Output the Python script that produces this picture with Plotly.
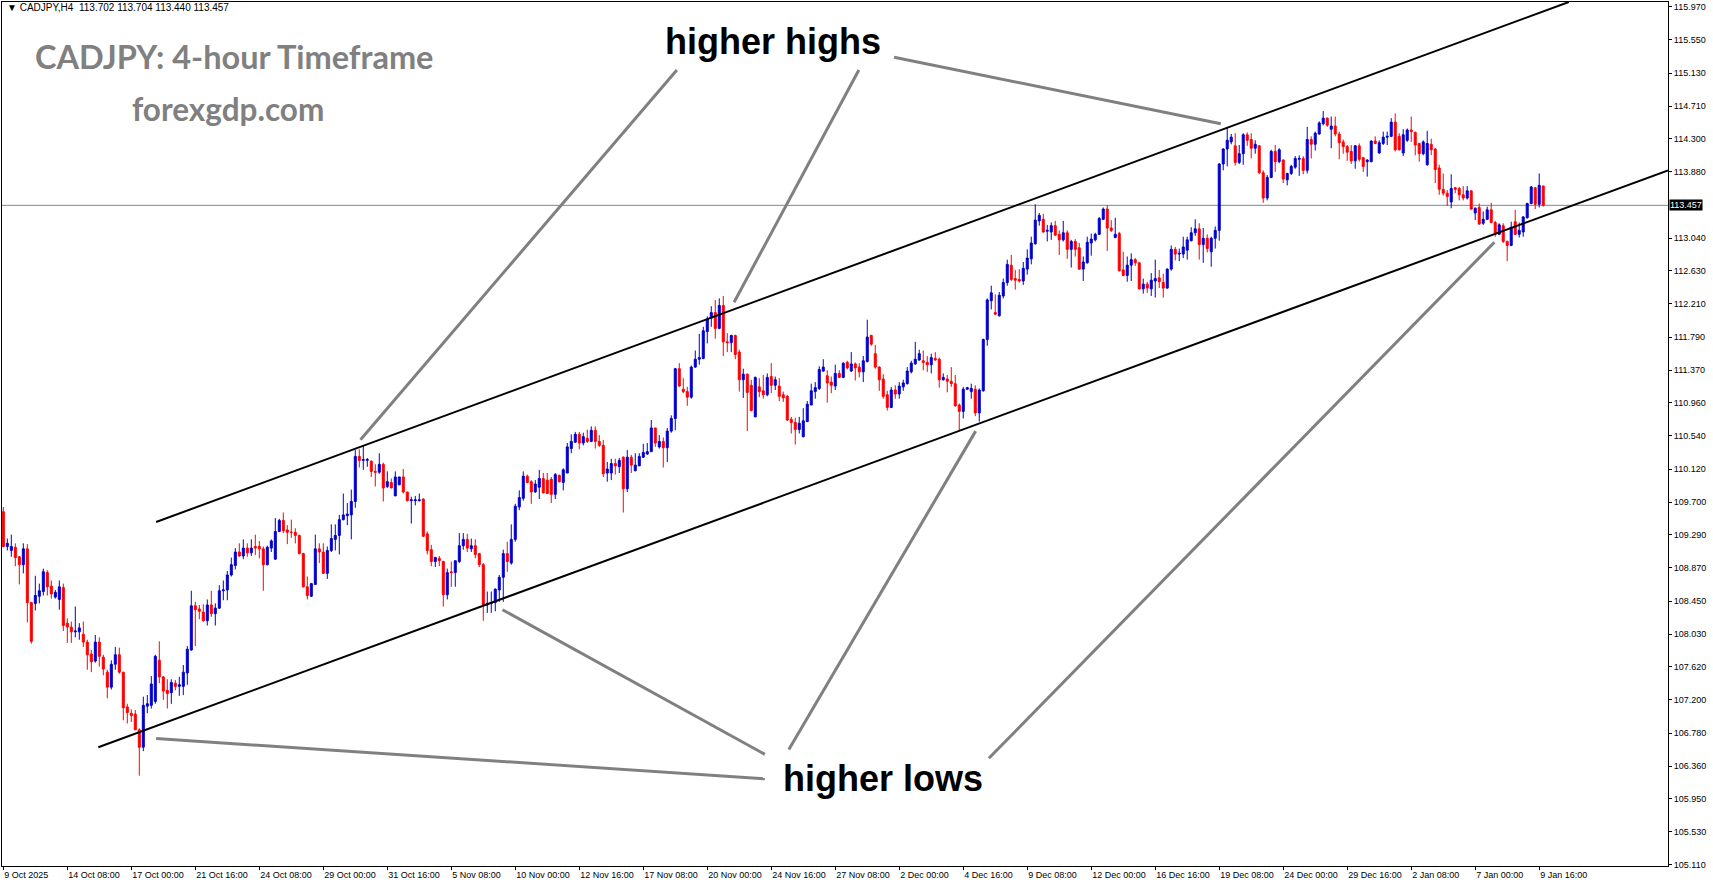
import plotly.graph_objects as go

# ---------------- data ----------------
opens = [
109.58,109.14,109.09,109.13,109.01,108.91,109.11,108.43,108.42,108.51,
108.57,108.81,108.64,108.50,108.47,108.62,108.17,108.12,108.06,108.06,
108.03,107.93,107.78,107.69,107.93,107.74,107.55,107.36,107.65,107.77,
107.55,107.11,107.03,107.02,106.82,106.60,107.12,107.13,107.18,107.70,
107.49,107.32,107.29,107.41,107.37,107.37,107.54,107.83,108.39,108.35,
108.31,108.20,108.40,108.29,108.36,108.58,108.59,108.78,108.90,109.07,
109.02,109.12,109.06,109.14,109.14,109.11,108.91,109.12,108.98,109.33,
109.47,109.35,109.32,109.32,109.28,109.05,108.63,108.51,108.66,109.11,
109.07,108.80,109.09,109.23,109.28,109.48,109.53,109.54,109.71,110.28,
110.23,110.23,110.22,110.09,110.08,110.18,109.90,109.95,109.78,109.92,
110.02,109.83,109.72,109.72,109.72,109.74,109.30,109.10,108.95,108.99,
108.95,108.53,108.82,108.81,108.95,109.15,109.23,109.11,109.15,109.05,
108.91,108.40,108.42,108.43,108.59,108.75,109.05,108.93,109.23,109.64,
109.75,110.03,109.96,109.83,109.89,110.00,109.98,109.99,109.80,110.04,
109.95,110.07,110.38,110.46,110.56,110.45,110.51,110.47,110.61,110.47,
110.42,110.07,110.07,110.19,110.15,110.27,109.87,110.27,110.10,110.16,
110.27,110.31,110.34,110.64,110.40,110.47,110.39,110.60,110.76,111.39,
111.13,111.10,111.03,111.41,111.51,111.52,111.86,112.03,112.10,111.90,
112.19,111.73,111.72,111.81,111.60,111.25,111.32,111.18,110.78,111.16,
111.11,111.06,111.29,111.18,111.17,111.06,111.04,110.75,110.71,110.62,
110.53,110.72,110.93,111.10,111.14,111.36,111.30,111.22,111.17,111.33,
111.28,111.47,111.36,111.45,111.41,111.35,111.48,111.81,111.58,111.41,
111.26,111.06,110.90,111.12,111.07,111.16,111.20,111.35,111.45,111.50,
111.49,111.47,111.44,111.52,111.51,111.25,111.26,111.23,111.20,110.93,
110.85,111.13,111.10,111.13,110.83,111.11,111.76,112.25,112.10,112.06,
112.31,112.48,112.70,112.53,112.52,112.50,112.65,112.78,112.97,113.26,
113.28,113.13,113.12,113.20,113.09,113.02,113.11,112.90,113.00,112.92,
112.65,112.73,112.98,113.02,113.09,113.28,113.41,113.17,113.05,113.10,
112.64,112.57,112.70,112.77,112.73,112.40,112.46,112.40,112.50,112.54,
112.48,112.41,112.65,112.90,112.84,112.84,112.89,113.01,113.11,113.16,
112.96,113.04,112.87,113.04,113.14,113.98,114.17,114.26,114.21,114.00,
114.11,114.35,114.29,114.18,114.21,113.87,113.55,113.81,114.14,114.01,
114.03,113.78,113.86,113.94,114.04,114.05,113.90,114.29,114.23,114.36,
114.49,114.56,114.42,114.46,114.36,114.26,114.20,114.14,114.02,114.21,
114.06,114.01,114.01,114.27,114.12,114.24,114.32,114.33,114.51,114.33,
114.12,114.28,114.41,114.38,114.24,114.11,113.97,114.23,114.17,113.93,
113.66,113.61,113.50,113.68,113.67,113.59,113.55,113.64,113.36,113.43,
113.23,113.28,113.40,113.24,113.09,113.20,113.00,112.95,113.25,113.09,
113.12,113.30,113.48,113.68,113.47,113.702]

highs = [
109.64,109.24,109.29,109.18,109.02,109.18,109.17,108.44,108.77,108.67,
108.86,108.84,108.71,108.59,108.71,108.67,108.23,108.19,108.38,108.17,
108.19,107.96,107.83,108.02,107.99,107.77,107.58,107.70,107.87,107.86,
107.55,107.15,107.08,107.07,106.84,107.24,107.26,107.50,107.77,107.94,
107.50,107.46,107.46,107.45,107.49,107.64,107.88,108.58,108.44,108.40,
108.41,108.47,108.58,108.42,108.65,108.71,108.83,109.00,109.12,109.18,
109.23,109.18,109.23,109.29,109.21,109.14,109.15,109.23,109.50,109.49,
109.57,109.41,109.48,109.37,109.29,109.06,108.76,108.68,109.29,109.18,
109.18,109.14,109.42,109.42,109.54,109.81,109.69,109.86,110.36,110.37,
110.42,110.26,110.23,110.18,110.32,110.20,110.09,110.00,110.09,110.02,
110.12,109.83,109.77,109.78,109.81,109.75,109.33,109.16,109.01,109.02,
108.96,108.86,108.95,108.96,109.31,109.31,109.30,109.24,109.23,109.06,
108.93,108.57,108.57,108.61,108.78,109.10,109.20,109.42,109.68,109.85,
110.09,110.05,109.98,109.98,110.11,110.07,110.07,110.02,110.07,110.05,
110.13,110.45,110.56,110.59,110.59,110.58,110.62,110.66,110.66,110.55,
110.49,110.21,110.25,110.25,110.26,110.28,110.36,110.30,110.32,110.32,
110.44,110.45,110.74,110.64,110.55,110.52,110.64,110.80,111.40,111.46,
111.27,111.16,111.43,111.62,111.83,111.92,112.05,112.18,112.26,112.28,
112.31,111.84,111.82,111.82,111.63,111.39,111.33,111.25,111.29,111.27,
111.31,111.33,111.46,111.29,111.27,111.10,111.06,110.78,110.77,110.78,
110.89,110.98,111.20,111.22,111.42,111.51,111.37,111.29,111.44,111.37,
111.47,111.49,111.60,111.47,111.46,111.55,112.01,111.82,111.69,111.42,
111.32,111.11,111.16,111.18,111.22,111.25,111.41,111.49,111.73,111.63,
111.62,111.55,111.58,111.60,111.53,111.33,111.31,111.41,111.31,110.95,
111.16,111.16,111.20,111.18,111.14,111.77,112.28,112.44,112.33,112.36,
112.53,112.77,112.83,112.64,112.65,112.74,112.90,113.06,113.47,113.36,
113.35,113.21,113.24,113.26,113.14,113.26,113.14,113.02,113.03,112.98,
112.81,113.06,113.10,113.11,113.31,113.43,113.46,113.27,113.30,113.12,
112.87,112.81,112.85,112.79,112.74,112.53,112.49,112.60,112.77,112.64,
112.59,112.66,112.95,112.93,112.91,113.06,113.06,113.18,113.28,113.23,
113.17,113.09,113.06,113.19,113.99,114.18,114.45,114.36,114.37,114.22,
114.37,114.38,114.37,114.28,114.22,113.90,113.84,114.16,114.22,114.18,
114.04,113.87,113.97,114.08,114.09,114.08,114.45,114.33,114.39,114.52,
114.65,114.57,114.58,114.58,114.39,114.29,114.22,114.22,114.22,114.24,
114.07,114.04,114.28,114.33,114.28,114.39,114.39,114.56,114.62,114.37,
114.42,114.43,114.58,114.39,114.25,114.28,114.40,114.30,114.18,113.97,
113.86,113.65,113.85,113.69,113.69,113.70,113.70,113.65,113.43,113.48,
113.38,113.44,113.49,113.26,113.23,113.23,113.01,113.25,113.40,113.24,
113.32,113.49,113.70,113.69,113.86,113.704]

lows = [
109.13,109.09,109.01,108.89,108.66,108.80,108.18,107.91,108.33,108.42,
108.52,108.52,108.48,108.48,108.34,108.07,107.92,107.92,107.99,107.96,
107.87,107.58,107.55,107.67,107.62,107.51,107.22,107.33,107.58,107.53,
106.94,106.90,106.92,106.82,106.24,106.55,107.03,107.09,107.15,107.41,
107.20,107.09,107.15,107.32,107.25,107.26,107.39,107.82,107.88,108.22,
108.19,108.14,108.25,108.14,108.35,108.46,108.46,108.76,108.85,109.01,
108.98,109.01,109.02,109.03,108.99,108.58,108.90,109.07,108.97,109.32,
109.31,109.17,109.25,109.18,109.04,108.62,108.47,108.50,108.66,108.93,
108.79,108.73,109.07,109.09,109.04,109.47,109.41,109.23,109.63,110.14,
110.11,110.15,110.02,109.90,110.06,109.71,109.88,109.88,109.78,109.92,
109.81,109.71,109.43,109.66,109.71,109.26,109.04,108.89,108.88,108.89,
108.38,108.47,108.63,108.63,108.93,109.10,109.07,109.07,108.99,108.88,
108.20,108.30,108.30,108.32,108.44,108.44,108.82,108.91,109.20,109.60,
109.72,109.94,109.68,109.82,109.74,109.81,109.81,109.69,109.74,109.95,
109.85,110.07,110.32,110.45,110.37,110.42,110.45,110.46,110.38,110.40,
110.02,109.96,109.98,110.05,110.07,109.57,109.83,110.07,110.09,110.16,
110.26,110.30,110.34,110.40,110.38,110.14,110.21,110.58,110.61,111.16,
111.08,110.92,111.01,111.40,111.44,111.51,111.71,111.92,111.77,111.89,
111.55,111.60,111.60,111.51,111.10,111.02,110.60,110.85,110.78,111.03,
111.01,111.04,111.08,111.12,110.98,110.97,110.73,110.57,110.43,110.57,
110.52,110.72,110.93,111.01,111.12,111.35,110.96,111.08,111.12,111.27,
111.27,111.38,111.35,111.24,111.28,111.22,111.47,111.68,111.39,111.11,
111.01,110.86,110.89,111.01,111.01,111.11,111.19,111.33,111.44,111.49,
111.37,111.35,111.33,111.49,111.15,111.24,111.09,111.16,110.91,110.60,
110.76,111.12,111.01,110.79,110.72,111.10,111.68,112.14,112.07,112.05,
112.28,112.44,112.50,112.39,112.48,112.45,112.58,112.71,112.96,113.20,
113.11,113.00,113.02,113.07,112.83,113.00,112.78,112.67,112.81,112.64,
112.50,112.72,112.82,113.00,113.08,113.27,112.88,113.12,113.04,112.62,
112.56,112.49,112.50,112.69,112.39,112.34,112.35,112.31,112.29,112.41,
112.29,112.40,112.63,112.76,112.75,112.79,112.77,113.00,113.07,112.77,
112.73,112.86,112.68,112.91,113.01,113.90,113.95,114.23,113.96,113.98,
113.97,114.21,114.05,114.11,113.85,113.49,113.52,113.80,113.88,113.99,
113.74,113.71,113.84,113.92,113.83,113.85,113.86,114.05,114.15,114.35,
114.47,114.45,114.18,114.33,114.04,114.11,114.02,113.98,113.92,114.01,
113.88,113.82,114.00,114.23,114.11,114.22,114.22,114.32,114.14,114.15,
114.08,114.26,114.26,114.09,114.01,114.09,113.96,114.09,113.74,113.59,
113.58,113.45,113.42,113.61,113.52,113.52,113.53,113.40,113.27,113.21,
113.21,113.27,113.23,113.06,113.08,112.98,112.75,112.94,113.08,113.05,
113.06,113.29,113.47,113.41,113.43,113.440]

closes = [
109.14,109.18,109.14,109.00,108.91,109.11,108.43,107.94,108.52,108.58,
108.82,108.63,108.54,108.56,108.63,108.14,108.12,108.06,108.07,108.11,
107.93,107.77,107.68,107.93,107.75,107.59,107.36,107.65,107.77,107.55,
107.10,107.04,107.00,106.82,106.60,107.13,107.15,107.40,107.75,107.49,
107.31,107.28,107.42,107.37,107.39,107.55,107.84,108.39,108.34,108.32,
108.20,108.40,108.29,108.36,108.58,108.59,108.78,108.91,109.07,109.02,
109.12,109.06,109.12,109.12,109.11,108.91,109.13,109.21,109.33,109.47,
109.34,109.32,109.32,109.28,109.05,108.63,108.52,108.67,109.11,109.07,
108.80,109.09,109.24,109.28,109.48,109.54,109.55,109.71,110.28,110.23,
110.24,110.24,110.09,110.08,110.18,109.88,109.96,109.88,110.02,110.02,
109.83,109.72,109.73,109.73,109.73,109.27,109.09,108.95,109.00,108.96,
108.53,108.81,108.81,108.96,109.15,109.23,109.12,109.15,109.04,108.91,
108.40,108.42,108.43,108.60,108.75,109.05,108.95,109.23,109.65,109.76,
110.03,109.95,109.83,109.93,110.00,109.82,109.81,109.80,110.05,109.96,
110.11,110.40,110.47,110.56,110.45,110.53,110.47,110.61,110.47,110.42,
110.06,110.12,110.19,110.16,110.23,109.87,110.27,110.17,110.17,110.28,
110.33,110.34,110.64,110.45,110.47,110.39,110.60,110.76,111.39,111.17,
111.10,111.03,111.41,111.51,111.53,111.87,112.02,112.10,111.90,112.19,
111.73,111.72,111.81,111.57,111.25,111.32,111.09,110.86,111.28,111.10,
111.06,111.28,111.18,111.25,111.04,111.02,110.74,110.71,110.62,110.70,
110.73,110.94,111.11,111.15,111.38,111.41,111.21,111.18,111.33,111.28,
111.46,111.40,111.45,111.40,111.35,111.49,111.79,111.70,111.41,111.25,
111.04,110.90,111.12,111.07,111.17,111.21,111.36,111.46,111.51,111.58,
111.47,111.44,111.53,111.50,111.25,111.28,111.23,111.20,110.92,110.85,
111.13,111.15,111.14,110.83,111.12,111.76,112.26,112.35,112.08,112.32,
112.48,112.71,112.52,112.51,112.50,112.66,112.79,112.98,113.27,113.33,
113.12,113.14,113.20,113.08,113.02,113.11,112.90,113.00,112.90,112.65,
112.74,112.99,113.03,113.09,113.29,113.41,113.17,113.14,113.09,112.63,
112.57,112.70,112.77,112.73,112.40,112.46,112.41,112.51,112.53,112.49,
112.41,112.65,112.90,112.84,112.85,112.93,113.02,113.11,113.16,112.96,
113.04,112.91,113.04,113.14,113.98,114.17,114.28,114.32,114.00,114.11,
114.35,114.28,114.18,114.23,113.87,113.55,113.81,114.14,114.01,114.16,
113.79,113.86,113.95,114.05,114.05,113.90,114.29,114.23,114.37,114.50,
114.56,114.47,114.46,114.36,114.25,114.20,114.13,114.02,114.21,114.04,
113.95,114.03,114.27,114.24,114.25,114.32,114.33,114.51,114.16,114.16,
114.35,114.41,114.39,114.22,114.11,114.26,114.24,114.16,113.91,113.66,
113.61,113.57,113.67,113.66,113.59,113.55,113.64,113.41,113.42,113.22,
113.28,113.40,113.24,113.09,113.21,113.00,112.95,113.18,113.09,113.14,
113.31,113.48,113.69,113.47,113.71,113.457]

bar_index = list(range(len(closes)))

date_labels = ["9 Oct 2025", "14 Oct 08:00", "17 Oct 00:00", "21 Oct 16:00", "24 Oct 08:00",
               "29 Oct 00:00", "31 Oct 16:00", "5 Nov 08:00", "10 Nov 00:00", "12 Nov 16:00",
               "17 Nov 08:00", "20 Nov 00:00", "24 Nov 16:00", "27 Nov 08:00", "2 Dec 00:00",
               "4 Dec 16:00", "9 Dec 08:00", "12 Dec 00:00", "16 Dec 16:00", "19 Dec 08:00",
               "24 Dec 00:00", "29 Dec 16:00", "2 Jan 08:00", "7 Jan 00:00", "9 Jan 16:00"]
label_bars = list(range(0, 16 * len(date_labels), 16))

price_ticks = [105.110, 105.530, 105.950, 106.360, 106.780, 107.200, 107.620, 108.030,
               108.450, 108.870, 109.290, 109.700, 110.120, 110.540, 110.960, 111.370,
               111.790, 112.210, 112.630, 113.040, 113.880, 114.300, 114.710, 115.130,
               115.550, 115.970]
last_price = 113.457
header = "CADJPY,H4  113.702 113.704 113.440 113.457"

# channel lines (bar, price)
upper_channel_bars = [38.2, 391.4]
upper_channel_prices = [109.45, 116.03]
lower_channel_bars = [23.75, 416.2]
lower_channel_prices = [106.60, 113.90]

# annotation pointer lines: (bar0, price0, bar1, price1)
pointer_lines = [
    (168.4, 115.17, 89.3, 110.49),
    (213.9, 115.17, 182.7, 112.23),
    (222.7, 115.33, 304.4, 114.49),
    (38.2, 106.71, 190.4, 106.20),
    (124.8, 108.34, 190.4, 106.51),
    (243.1, 110.60, 196.4, 106.57),
    (372.8, 112.99, 246.4, 106.46),
]

BLUE = "#0000CD"
RED = "#FF0000"

fig = go.Figure()
fig.add_trace(go.Candlestick(
    x=bar_index, open=opens, high=highs, low=lows, close=closes,
    increasing=dict(line=dict(color=BLUE, width=1), fillcolor=BLUE),
    decreasing=dict(line=dict(color=RED, width=1), fillcolor=RED),
    whiskerwidth=0, showlegend=False, hoverinfo="skip"))

fig.add_trace(go.Scatter(x=upper_channel_bars, y=upper_channel_prices, mode="lines",
                         line=dict(color="black", width=2), showlegend=False, hoverinfo="skip"))
fig.add_trace(go.Scatter(x=lower_channel_bars, y=lower_channel_prices, mode="lines",
                         line=dict(color="black", width=2), showlegend=False, hoverinfo="skip"))
for (b0, p0, b1, p1) in pointer_lines:
    fig.add_trace(go.Scatter(x=[b0, b1], y=[p0, p1], mode="lines",
                             line=dict(color="#808080", width=3), showlegend=False, hoverinfo="skip"))

fig.add_shape(type="line", xref="paper", x0=0, x1=1, yref="y", y0=last_price, y1=last_price,
              line=dict(color="#778899", width=1), layer="below")

ann = []
ann.append(dict(xref="paper", yref="paper", x=0.0, y=0.9935, xanchor="left", yanchor="middle",
                xshift=3, text="▼ " + header, showarrow=False,
                font=dict(family="Liberation Sans, Arial", size=10, color="black")))
ann.append(dict(xref="paper", yref="paper", x=0.1395, y=0.937, xanchor="center", yanchor="middle",
                text="<b>CADJPY: 4-hour Timeframe</b>", showarrow=False,
                font=dict(family="Lato", size=32.5, color="#808080")))
ann.append(dict(xref="paper", yref="paper", x=0.1357, y=0.876, xanchor="center", yanchor="middle",
                text="<b>forexgdp.com</b>", showarrow=False,
                font=dict(family="Lato", size=31.5, color="#808080")))
ann.append(dict(xref="x", yref="y", x=192.4, y=115.53, xanchor="center", yanchor="middle",
                text="<b>higher highs</b>", showarrow=False,
                font=dict(family="Liberation Sans, Arial", size=36, color="black")))
ann.append(dict(xref="x", yref="y", x=219.9, y=106.21, xanchor="center", yanchor="middle",
                text="<b>higher lows</b>", showarrow=False,
                font=dict(family="Liberation Sans, Arial", size=36, color="black")))
ann.append(dict(xref="paper", yref="y", x=1, y=last_price, xanchor="left", yanchor="middle",
                xshift=1, text="%.3f" % last_price, showarrow=False, bgcolor="black", borderpad=0,
                font=dict(family="Liberation Sans, Arial", size=9, color="white")))

fig.update_layout(
    width=1713, height=888,
    margin=dict(l=2, r=45, t=2, b=22),
    paper_bgcolor="white", plot_bgcolor="white",
    boxgap=0.5, boxgroupgap=0,
    annotations=ann,
    showlegend=False,
    xaxis=dict(range=[-0.33, 416.2], showgrid=False, zeroline=False,
               showline=True, linecolor="black", linewidth=1, mirror=True,
               ticks="outside", ticklen=3, tickcolor="black",
               tickvals=label_bars, ticktext=date_labels,
               ticklabelposition="outside right",
               tickfont=dict(family="Liberation Sans, Arial", size=9, color="black"),
               rangeslider=dict(visible=False), fixedrange=True),
    yaxis=dict(side="right", range=[105.097, 116.03], showgrid=False, zeroline=False,
               showline=True, linecolor="black", linewidth=1, mirror=True,
               ticks="outside", ticklen=3, tickcolor="black",
               tickvals=price_ticks, ticktext=["%.3f" % v for v in price_ticks],
               tickfont=dict(family="Liberation Sans, Arial", size=9, color="black"),
               fixedrange=True),
)

fig.write_html("out.html")
